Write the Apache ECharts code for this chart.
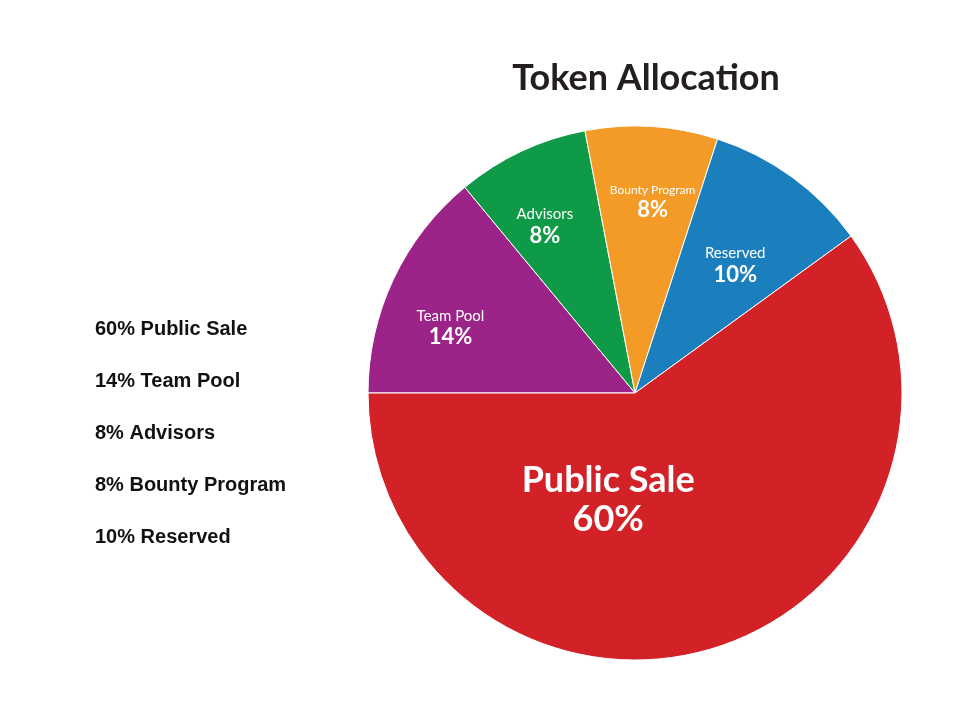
<!DOCTYPE html>
<html>
<head>
<meta charset="utf-8">
<script src="https://cdn.jsdelivr.net/npm/echarts@6/dist/echarts.min.js"></script>
<style>html,body{margin:0;background:#fff}#main{width:975px;height:705px}</style>
</head>
<body>
<div id="main"></div>
<script>
var names = ['Team Pool', 'Advisors', 'Bounty Program', 'Reserved', 'Public Sale'];
var values = [14, 8, 8, 10, 60];
var colors = ['#9c2387', '#0f9a47', '#f39b26', '#1b7fbe', '#d22228'];
var legendOrder = ['Public Sale', 'Team Pool', 'Advisors', 'Bounty Program', 'Reserved'];
var labelSizes = [15, 15, 12, 15, 36];
var pctSizes = [22, 22, 22, 22, 36];
var labelOffsets = [[-61, -7], [-32, -43], [9, -55], [20, -17], [-69, -23]];

var myChart = echarts.init(document.getElementById('main'));
var data = names.map(function (n, i) {
    return {
        name: n,
        value: values[i],
        itemStyle: { color: colors[i] },
        label: {
            offset: labelOffsets[i],
            rich: {
                a: { fontSize: labelSizes[i], color: '#fff', fontFamily: 'Lato', fontWeight: i == 4 ? 'bold' : 'normal', lineHeight: labelSizes[i] + 4 },
                b: { fontSize: pctSizes[i], color: '#fff', fontFamily: 'Lato', fontWeight: 'bold', lineHeight: pctSizes[i] + 2 }
            }
        }
    };
});

var option = {
    title: {
        text: 'Token Allocation',
        left: 641, top: 55, textAlign: 'center',
        textStyle: { fontSize: 36, fontWeight: 'bold', color: '#231f20', fontFamily: 'Lato' }
    },
    legend: {
        orient: 'vertical',
        left: 85, top: 314,
        data: legendOrder,
        icon: 'none',
        itemWidth: 0,
        itemGap: 32,
        selectedMode: false,
        formatter: function (n) { return values[names.indexOf(n)] + '% ' + n; },
        textStyle: { fontSize: 20, fontWeight: 'bold', color: '#111', fontFamily: 'Liberation Sans' }
    },
    series: [{
        type: 'pie',
        center: [635, 393],
        radius: 267,
        startAngle: 180,
        clockwise: true,
        silent: true,
        labelLayout: { hideOverlap: false },
        itemStyle: { borderColor: '#fff', borderWidth: 1 },
        label: {
            show: true,
            position: 'inside',
            overflow: 'none',
            formatter: function (p) { return '{a|' + p.name + '}\n{b|' + p.value + '%}'; }
        },
        data: data
    }]
};
myChart.setOption(option);
</script>
</body>
</html>
